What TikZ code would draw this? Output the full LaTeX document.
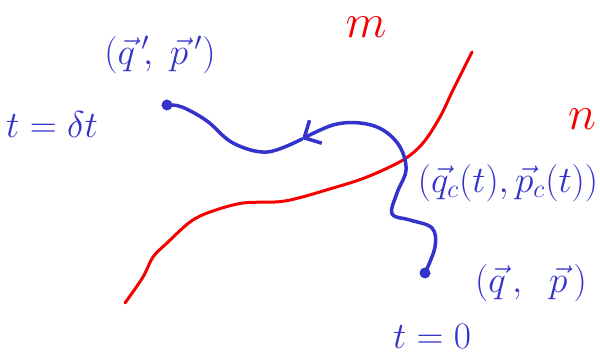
\documentclass[tikz,border=0pt]{standalone}
\usetikzlibrary{arrows.meta}
\definecolor{pen}{RGB}{51,51,204}
\definecolor{redpen}{RGB}{245,0,0}
\begin{document}
\begin{tikzpicture}[x=1pt,y=-1pt,
  bluel/.style={pen, line width=3.5pt, line cap=round, line join=round},
  redl/.style={redpen, line width=3pt, line cap=round, line join=round},
  lab/.style={pen, inner sep=0pt, font=\huge, scale=1.8},
  rlab/.style={redpen, inner sep=0pt, font=\huge, scale=2.3},
  dotn/.style={circle, fill=pen, inner sep=0pt, minimum size=11pt}]
\useasboundingbox (0,0) rectangle (600,358);
% red curve
\draw[redl] plot[smooth, tension=0.55] coordinates {(125,303) (143,277) (153,257) (167,243) (190,222) (210,212) (243,203) (285,201) (333,188) (367,177) (403,160) (423,143) (440,117) (453,90) (472,52)};
% dots
\node[dotn] (dotA) at (425,273) {};
\node[dotn] (dotB) at (167,105) {};
\coordinate (tip) at (302,139);
% blue trajectory
\draw[bluel, -{Straight Barb[length=13pt, width=26pt]}] plot[smooth, tension=0.6] coordinates {(dotA) (435,247) (432,228) (410,220) (392,214) (397,193) (406,170) (400,147) (383,130) (360,123) (333,125) (tip)};
\draw[bluel] plot[smooth, tension=0.6] coordinates {(tip) (267,152) (233,143) (207,121) (182,107) (dotB)};
% labels
\node[rlab] (m) at (366,27) {$m$};
\node[rlab] (n) at (582,119) {$n$};
\node[lab] (qp1) at (160,55) {$(\vec q\,'\!,\;\vec p\,')$};
\node[lab] (t1) at (52,125) {$t=\delta t$};
\node[lab] (qpc) at (508,183) {$(\vec q_c(t),\vec p_c(t))$};
\node[lab] (qp0) at (531,283) {$(\vec q\,,\;\;\vec p\,)$};
\node[lab] (t0) at (432,336) {$t=0$};
\end{tikzpicture}
\end{document}
